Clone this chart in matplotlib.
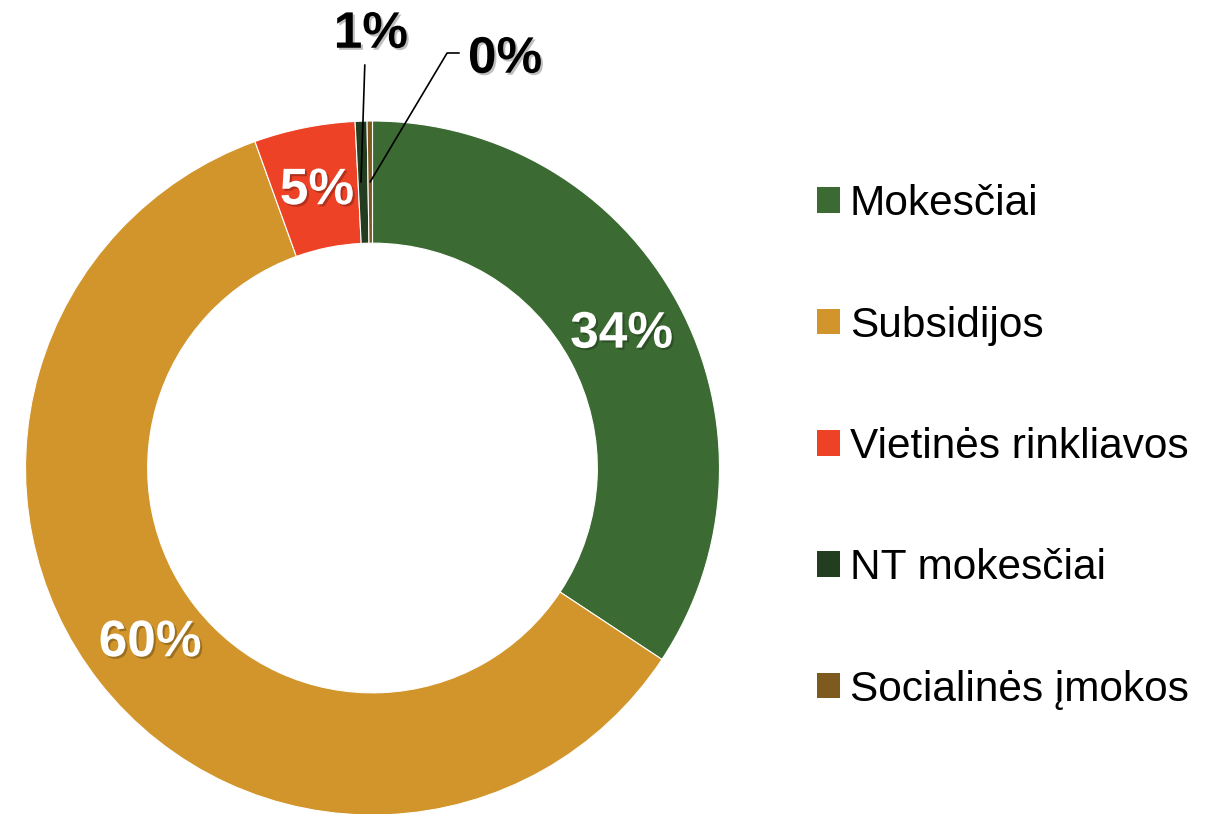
import numpy as np
import matplotlib.pyplot as plt
import matplotlib.patheffects as pe
from matplotlib.patches import Patch

plt.rcParams['font.family'] = ['Liberation Sans', 'DejaVu Sans']

labels = ["Mokesčiai", "Subsidijos", "Vietinės rinkliavos", "NT mokesčiai", "Socialinės įmokos"]
shares = [34.3, 60.2, 4.7, 0.55, 0.25]
colors = ["#3B6B33", "#D1952B", "#EE4227", "#223D1F", "#7E5A1F"]

W, H = 1217, 814
cx, cy, R = 372.5, 468, 347   # pie centre / radius in pixels

fig = plt.figure(figsize=(W / 100, H / 100), dpi=100)
ax = fig.add_axes([(cx - R) / W, (H - cy - R) / H, 2 * R / W, 2 * R / H])

shadow = [pe.withSimplePatchShadow(offset=(1.5, -1.5), shadow_rgbFace="black", alpha=0.25)]

wedges, texts, autotexts = ax.pie(
    shares, colors=colors, startangle=90, counterclock=False, radius=1,
    autopct=lambda p: f"{p:.0f}%", pctdistance=0.815,
    wedgeprops=dict(width=0.352, edgecolor="white", linewidth=0.8),
    textprops=dict(color="white", fontsize=37, fontweight="bold"))
for t in autotexts:
    t.set_path_effects(shadow)

# tiny slices get outside labels with leader lines
for t in autotexts[3:]:
    t.set_visible(False)


def mid_point(w, r):
    a = np.deg2rad((w.theta1 + w.theta2) / 2)
    return r * np.cos(a), r * np.sin(a)


line_kw = dict(color="black", lw=1.2)
x0, y0 = mid_point(wedges[3], 0.825)
ax.plot([x0 - 0.006, x0 + 0.005], [y0, 1.161], **line_kw, clip_on=False)
ax.text(-0.005, 1.25, f"{shares[3]:.0f}%", ha="center", va="center", fontsize=37,
        fontweight="bold", color="black", path_effects=shadow)

x1, y1 = mid_point(wedges[4], 0.825)
ax.plot([x1, 0.215, 0.249], [y1, 1.196, 1.196], **line_kw, clip_on=False)
ax.text(0.275, 1.178, f"{shares[4]:.0f}%", ha="left", va="center", fontsize=37,
        fontweight="bold", color="black", path_effects=shadow)

ax.set_xlim(-1, 1)
ax.set_ylim(-1, 1)
ax.set_aspect("equal")
ax.axis("off")

handles = [Patch(facecolor=c, edgecolor="none") for c in colors]
fig.legend(handles, labels, loc="upper left", bbox_to_anchor=(796 / W, 1 - 163 / H),
           frameon=False, fontsize=30.5, labelspacing=1.92, handlelength=0.55,
           handleheight=0.55, handletextpad=0.22, borderpad=0)

fig.savefig("out.png", dpi=100)
